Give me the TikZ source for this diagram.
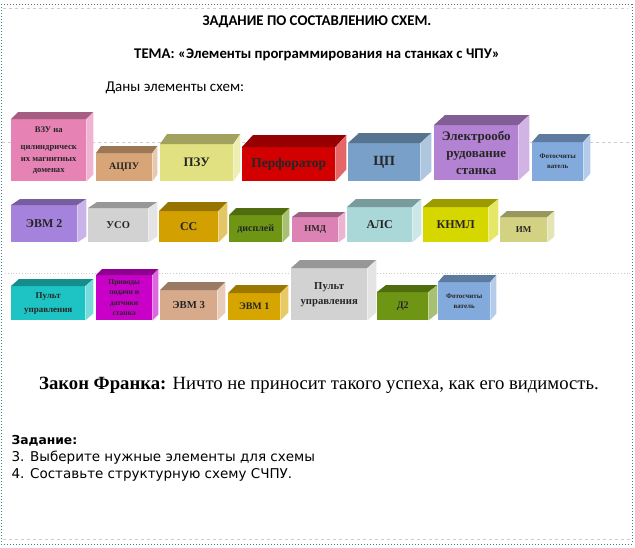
\documentclass[tikz,border=0pt]{standalone}
\usepackage{fontspec}
\setmainfont{Liberation Serif}
\newfontfamily\calibri{Carlito}
\newfontfamily\gothic{DejaVu Sans}
\usetikzlibrary{calc}
\definecolor{frame-teal}{RGB}{60,128,138}
\definecolor{frame-gray}{RGB}{100,108,112}
\definecolor{c-vzu}{RGB}{230,130,180}
\definecolor{c-acpu}{RGB}{215,165,120}
\definecolor{c-pzu}{RGB}{225,225,130}
\definecolor{c-perf}{RGB}{210,0,0}
\definecolor{c-cp}{RGB}{120,160,200}
\definecolor{c-elektro}{RGB}{180,130,210}
\definecolor{c-foto}{RGB}{130,170,220}
\definecolor{c-evm2}{RGB}{165,130,220}
\definecolor{c-uso}{RGB}{210,210,210}
\definecolor{c-ss}{RGB}{210,160,0}
\definecolor{c-disp}{RGB}{110,150,20}
\definecolor{c-nmd}{RGB}{220,130,180}
\definecolor{c-als}{RGB}{170,215,215}
\definecolor{c-knml}{RGB}{215,215,0}
\definecolor{c-im}{RGB}{210,210,130}
\definecolor{c-pult}{RGB}{30,195,195}
\definecolor{c-privod}{RGB}{200,0,200}
\definecolor{c-evm3}{RGB}{215,170,140}
\definecolor{c-evm1}{RGB}{215,165,0}
\tikzset{
  cube/.style={inner sep=1pt, align=center, anchor=north west, text=black!85},
  guide/.style={gray!40, dashed, line width=0.8pt}
}
% top and right faces of a cube drawn from its front node
\newcommand{\cubesides}[4]{%
  \fill[#2!72!black] (#1.north west) -- ++(#3,-#4) -- ([shift={(#3,-#4)}]#1.north east) -- (#1.north east) -- cycle;
  \fill[#2!60!white] (#1.north east) -- ++(#3,-#4) -- ([shift={(#3,-#4)}]#1.south east) -- (#1.south east) -- cycle;
}
\newcommand{\bsize}[2]{\bfseries\fontsize{#1}{#2}\selectfont}
\begin{document}
\begin{tikzpicture}[x=1pt, y=-1pt]
\useasboundingbox (0,0) rectangle (635,547);
% page frame
\draw[guide] (3,8) -- (628,8);
\draw[guide] (3,539) -- (631,539);
\draw[guide] (2,142) -- (630,142);
\draw[gray!40, dotted, line width=0.8pt] (5,273) -- (630,273);
\draw[frame-gray, dotted, line width=1pt] (1,4) -- (632,4);
\draw[frame-teal, dotted, line width=1pt] (1,4) -- (1,544) -- (632,544) -- (632,4);

% headings
\node[font=\calibri\bfseries\fontsize{14.8}{17}\selectfont] (title) at (317,22) {ЗАДАНИЕ ПО СОСТАВЛЕНИЮ СХЕМ.};
\node[font=\calibri\bfseries\fontsize{14.8}{17}\selectfont] (tema) at (317,55) {ТЕМА: «Элементы программирования на станках с ЧПУ»};
\node[font=\calibri\fontsize{15}{17}\selectfont, anchor=west] (given) at (102,88) {Даны элементы схем:};

% row 1
\node[cube, fill=c-vzu, minimum width=75pt, minimum height=62pt, font=\bsize{8.6}{11.5}] (vzu) at (11,119) {ВЗУ на\\[6pt]цилиндрическ\\их магнитных\\доменах};
\node[cube, fill=c-acpu, minimum width=56pt, minimum height=28pt, font=\bsize{10}{12}] (acpu) at (96,153) {АЦПУ};
\node[cube, fill=c-pzu, minimum width=73pt, minimum height=37pt, font=\bsize{13}{15}] (pzu) at (160,144) {ПЗУ};
\node[cube, fill=c-perf, minimum width=93pt, minimum height=34pt, font=\bsize{13.5}{16}] (perf) at (242,147) {Перфоратор};
\node[cube, fill=c-cp, minimum width=72pt, minimum height=38pt, font=\bsize{14}{16}] (cp) at (348,143) {ЦП};
\node[cube, fill=c-elektro, minimum width=84pt, minimum height=55pt, font=\bsize{13}{17}] (elektro) at (434,125) {Электрообо\\рудование\\станка};
\node[cube, fill=c-foto, minimum width=51pt, minimum height=39pt, font=\bsize{7}{10}] (foto) at (532,142) {Фотосчиты\\ватель};

% row 2
\node[cube, fill=c-evm2, minimum width=66pt, minimum height=37pt, font=\bsize{12}{14}] (evm2) at (11,205) {ЭВМ 2};
\node[cube, fill=c-uso, minimum width=60pt, minimum height=34pt, font=\bsize{10.5}{12}] (uso) at (88,208) {УСО};
\node[cube, fill=c-ss, minimum width=59pt, minimum height=31pt, font=\bsize{12}{14}] (ss) at (159,211) {СС};
\node[cube, fill=c-disp, minimum width=53pt, minimum height=27pt, font=\bsize{10}{12}] (disp) at (229,215) {дисплей};
\node[cube, fill=c-nmd, minimum width=46pt, minimum height=25pt, font=\bsize{9}{11}] (nmd) at (292,217) {НМД};
\node[cube, fill=c-als, minimum width=65pt, minimum height=35pt, font=\bsize{12}{14}] (als) at (347,207) {АЛС};
\node[cube, fill=c-knml, minimum width=65pt, minimum height=35pt, font=\bsize{12}{14}] (knml) at (423,207) {КНМЛ};
\node[cube, fill=c-im, minimum width=47pt, minimum height=25pt, font=\bsize{9}{11}] (im) at (500,217) {ИМ};

% row 3
\node[cube, fill=c-pult, minimum width=74pt, minimum height=34pt, font=\bsize{9}{14}] (pult1) at (11,286) {Пульт\\управления};
\node[cube, fill=c-privod, minimum width=56pt, minimum height=45pt, font=\bsize{7.5}{10.5}] (privod) at (96,275) {Приводы\\подачи и\\датчики\\станка};
\node[cube, fill=c-evm3, minimum width=57pt, minimum height=30pt, font=\bsize{10.7}{13}] (evm3) at (160,290) {ЭВМ 3};
\node[cube, fill=c-evm1, minimum width=52pt, minimum height=27pt, font=\bsize{10}{12}] (evm1) at (228,293) {ЭВМ 1};
\node[cube, fill=c-uso, minimum width=76pt, minimum height=52pt, font=\bsize{10.7}{15}] (pult2) at (291,268) {Пульт\\управления};
\node[cube, fill=c-disp, minimum width=51pt, minimum height=28pt, font=\bsize{10}{12}] (d2) at (377,292) {Д2};
\node[cube, fill=c-foto, minimum width=52pt, minimum height=38pt, font=\bsize{7}{10}] (foto2) at (438,282) {Фотосчиты\\ватель};

\cubesides{vzu}{c-vzu}{7}{7}
\cubesides{acpu}{c-acpu}{5}{7}
\cubesides{pzu}{c-pzu}{7}{10}
\cubesides{perf}{c-perf}{11}{12}
\cubesides{cp}{c-cp}{11}{10}
\cubesides{elektro}{c-elektro}{11}{10}
\cubesides{foto}{c-foto}{7}{8}
\cubesides{evm2}{c-evm2}{9}{6}
\cubesides{uso}{c-uso}{9}{6}
\cubesides{ss}{c-ss}{9}{9}
\cubesides{disp}{c-disp}{7}{7}
\cubesides{nmd}{c-nmd}{7}{5}
\cubesides{als}{c-als}{9}{8}
\cubesides{knml}{c-knml}{10}{8}
\cubesides{im}{c-im}{7}{6}
\cubesides{pult1}{c-pult}{8}{7}
\cubesides{privod}{c-privod}{6}{6}
\cubesides{evm3}{c-evm3}{8}{8}
\cubesides{evm1}{c-evm1}{8}{8}
\cubesides{pult2}{c-uso}{9}{8}
\cubesides{d2}{c-disp}{9}{7}
\cubesides{foto2}{c-foto}{6}{7}

% law and task
\node[font=\fontsize{18.7}{22}\selectfont] (law) at (319,385) {\textbf{Закон Франка:} Ничто не приносит такого успеха, как его видимость.};
\node[font=\gothic\bfseries\fontsize{12.3}{14}\selectfont, anchor=west] (task) at (8,441) {Задание:};
\node[font=\gothic\fontsize{13.5}{15}\selectfont, anchor=west] (task3) at (8,458) {3. Выберите нужные элементы для схемы};
\node[font=\gothic\fontsize{13.5}{15}\selectfont, anchor=west] (task4) at (8,475) {4. Составьте структурную схему СЧПУ.};
\end{tikzpicture}
\end{document}
